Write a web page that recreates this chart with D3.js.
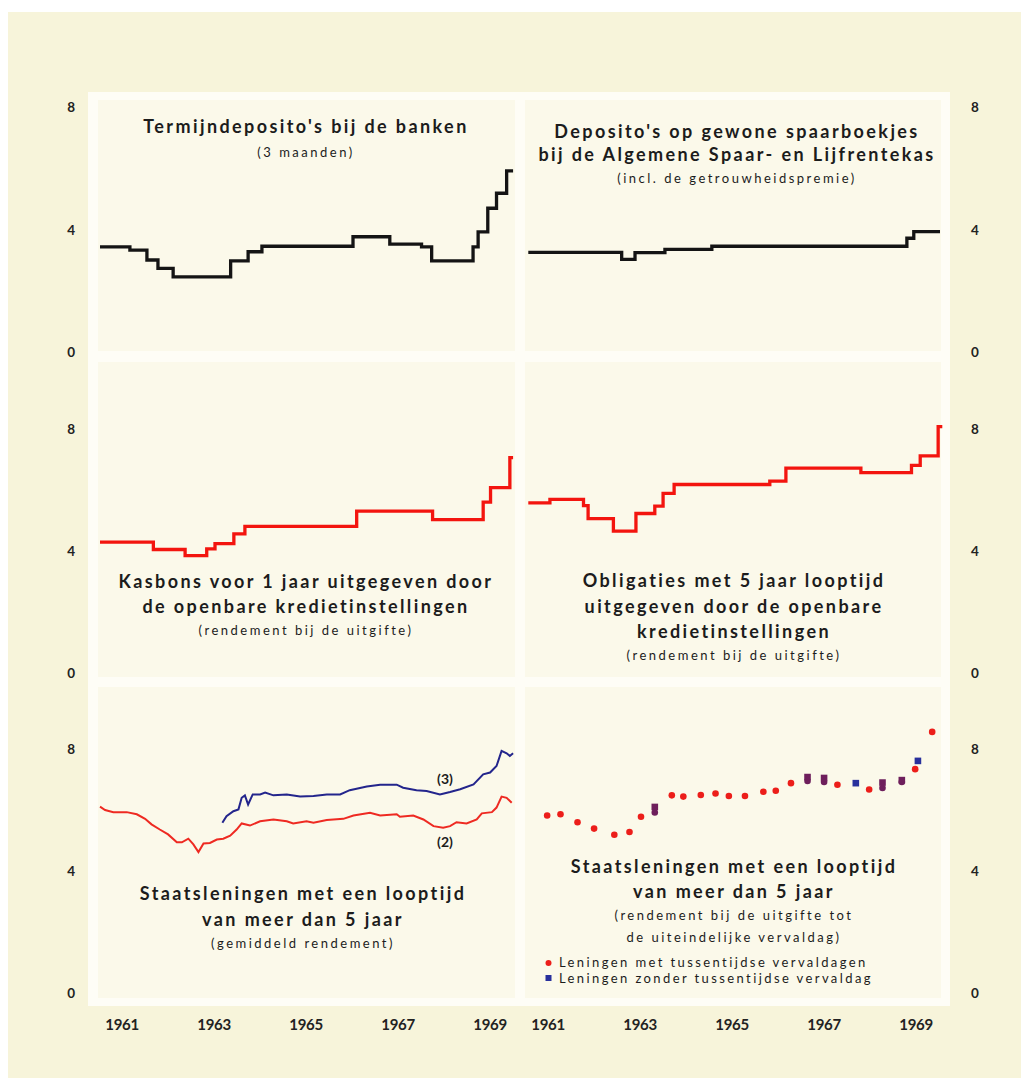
<!DOCTYPE html>
<html lang="nl">
<head>
<meta charset="UTF-8">
<script src="https://cdn.jsdelivr.net/npm/d3@7"></script>
<style>
  body { margin: 0; background: #ffffff; }
  svg text { font-family: Lato, "Open Sans", sans-serif; fill: #1c1c1c; }
  .title { font-size: 18px; font-weight: bold; letter-spacing: 2.4px; }
  .sub { font-size: 13px; letter-spacing: 2.5px; }
  .legend { font-size: 13px; letter-spacing: 2.4px; }
  .yax text { font-size: 13.5px; font-weight: bold; fill: #222; }
  .xax text { font-size: 15px; font-weight: bold; letter-spacing: -0.3px; fill: #222; }
  .note { font-size: 14px; font-weight: bold; }
</style>
</head>
<body>
<svg width="1021" height="1078"></svg>
<script>
// labels on the axes
var yearTicks = [1961, 1963, 1965, 1967, 1969];
var yTicks = [0, 4, 8];

// step series: year a level starts, level in %, last pair closes the line
var termijnT = [1961.0, 1961.65, 1962.02, 1962.26, 1962.59, 1963.84, 1964.22, 1964.52, 1966.5, 1967.30, 1967.99, 1968.21, 1969.11, 1969.22, 1969.43, 1969.62, 1969.84, 1969.98];
var termijnV = [3.45, 3.34, 3.02, 2.75, 2.47, 2.99, 3.29, 3.47, 3.78, 3.54, 3.45, 2.99, 3.45, 3.94, 4.71, 5.20, 5.93, 5.93];

var spaarT = [1961.05, 1963.08, 1963.37, 1964.02, 1965.04, 1969.28, 1969.43, 1970.0];
var spaarV = [3.27, 3.04, 3.26, 3.37, 3.47, 3.73, 3.95, 3.95];

var kasbonT = [1961.0, 1962.16, 1962.85, 1963.32, 1963.5, 1963.91, 1964.15, 1966.58, 1968.23, 1969.33, 1969.49, 1969.91, 1969.98];
var kasbonV = [4.29, 4.05, 3.85, 4.07, 4.24, 4.56, 4.81, 5.31, 5.03, 5.60, 6.08, 7.06, 7.06];

var obligT = [1961.05, 1961.52, 1962.25, 1962.35, 1962.9, 1963.39, 1963.8, 1963.98, 1964.22, 1966.3, 1966.65, 1968.28, 1969.38, 1969.57, 1969.96, 1970.05];
var obligV = [5.58, 5.69, 5.49, 5.06, 4.65, 5.23, 5.47, 5.89, 6.18, 6.29, 6.72, 6.57, 6.81, 7.12, 8.08, 8.08];

// average yield of state loans, (2) and (3)
var staat2T = [1961.0, 1961.11, 1961.29, 1961.58, 1961.8, 1961.98, 1962.12, 1962.30, 1962.48, 1962.67, 1962.78, 1962.92, 1963.03, 1963.14, 1963.25, 1963.39, 1963.54, 1963.68, 1963.83, 1963.97, 1964.08, 1964.26, 1964.48, 1964.77, 1965.06, 1965.2, 1965.49, 1965.64, 1965.93, 1966.29, 1966.51, 1966.87, 1967.09, 1967.45, 1967.52, 1967.81, 1968.03, 1968.25, 1968.46, 1968.61, 1968.75, 1968.97, 1969.19, 1969.3, 1969.52, 1969.62, 1969.73, 1969.84, 1969.95];
var staat2V = [6.11, 6.00, 5.93, 5.93, 5.86, 5.71, 5.53, 5.36, 5.20, 4.94, 4.94, 5.06, 4.87, 4.62, 4.90, 4.92, 5.03, 5.06, 5.16, 5.36, 5.56, 5.49, 5.63, 5.69, 5.63, 5.56, 5.63, 5.58, 5.67, 5.71, 5.82, 5.91, 5.82, 5.86, 5.78, 5.82, 5.69, 5.47, 5.42, 5.47, 5.60, 5.56, 5.69, 5.89, 5.93, 6.08, 6.44, 6.40, 6.24];

var staat3T = [1963.66, 1963.75, 1963.9, 1964.01, 1964.08, 1964.15, 1964.22, 1964.32, 1964.48, 1964.59, 1964.77, 1965.06, 1965.35, 1965.64, 1965.93, 1966.22, 1966.43, 1966.8, 1967.09, 1967.45, 1967.59, 1967.88, 1968.1, 1968.39, 1968.61, 1968.83, 1969.12, 1969.33, 1969.48, 1969.62, 1969.73, 1969.84, 1969.91, 1969.98];
var staat3V = [5.58, 5.80, 5.96, 6.02, 6.40, 6.48, 6.18, 6.51, 6.51, 6.57, 6.48, 6.51, 6.44, 6.46, 6.51, 6.51, 6.65, 6.77, 6.83, 6.83, 6.73, 6.65, 6.62, 6.51, 6.59, 6.68, 6.84, 7.17, 7.23, 7.44, 7.94, 7.86, 7.77, 7.86];

// yield at issue: loans with interim maturities (dots) and without (squares)
var metT = [1961.46, 1961.75, 1962.12, 1962.48, 1962.92, 1963.25, 1963.5, 1963.8, 1964.17, 1964.42, 1964.8, 1965.12, 1965.41, 1965.76, 1966.16, 1966.43, 1966.76, 1967.12, 1967.48, 1967.77, 1968.46, 1968.75, 1969.17, 1969.46, 1969.83];
var metV = [5.82, 5.86, 5.60, 5.39, 5.19, 5.28, 5.78, 5.92, 6.48, 6.44, 6.49, 6.54, 6.46, 6.46, 6.60, 6.63, 6.88, 6.95, 6.92, 6.83, 6.67, 6.72, 6.92, 7.34, 8.56];
var zonderT = [1963.8, 1967.12, 1967.48, 1968.17, 1968.75, 1969.17, 1969.52];
var zonderV = [6.10, 7.08, 7.05, 6.88, 6.90, 6.98, 7.61];

var svg = d3.select("svg");

// page, white frame and the six lighter panels
svg.append("rect").attr("x", 8).attr("y", 12).attr("width", 1013).attr("height", 1066).attr("fill", "#f7f4da");
svg.append("rect").attr("x", 88).attr("y", 92).attr("width", 862).attr("height", 914).attr("fill", "#fefdf6");

var cols = [{x0: 98, x1: 515, r0: 100, r1: 514}, {x0: 525, x1: 941, r0: 526, r1: 940}];
var rows = [{y0: 100, y1: 351, zero: 352.5, eight: 107.5},
            {y0: 362, y1: 677, zero: 673, eight: 429},
            {y0: 687, y1: 998, zero: 993, eight: 749}];

var xs = cols.map(function(c) { return d3.scaleLinear().domain([1961, 1970]).range([c.r0, c.r1]); });
var ys = rows.map(function(r) { return d3.scaleLinear().domain([0, 8]).range([r.zero, r.eight]); });

rows.forEach(function(r) {
    cols.forEach(function(c) {
        svg.append("rect").attr("x", c.x0).attr("y", r.y0)
            .attr("width", c.x1 - c.x0).attr("height", r.y1 - r.y0)
            .attr("fill", "#fbf9ea");
    });
});

// y labels left and right of each row
ys.forEach(function(y) {
    svg.append("g").attr("class", "yax").attr("transform", "translate(78,0)")
        .call(d3.axisLeft(y).tickValues(yTicks).tickSize(0).tickPadding(3))
        .call(function(g) { g.select(".domain").remove(); });
    svg.append("g").attr("class", "yax").attr("transform", "translate(968,0)")
        .call(d3.axisRight(y).tickValues(yTicks).tickSize(0).tickPadding(3))
        .call(function(g) { g.select(".domain").remove(); });
});

// year labels, set in the middle of each year
xs.forEach(function(x) {
    svg.append("g").attr("class", "xax").attr("transform", "translate(0,1019)")
        .call(d3.axisBottom(x).tickValues(yearTicks.map(function(d) { return d + 0.47; }))
            .tickFormat(function(d) { return Math.round(d - 0.47); }).tickSize(0).tickPadding(0))
        .call(function(g) { g.select(".domain").remove(); });
});

function drawLine(col, row, t, v, color, width, curve) {
    var x = xs[col], y = ys[row];
    var line = d3.line().curve(curve)
        .x(function(d) { return x(d[0]); })
        .y(function(d) { return y(d[1]); });
    svg.append("path")
        .datum(d3.zip(t, v))
        .attr("d", line)
        .attr("fill", "none")
        .attr("stroke", color)
        .attr("stroke-width", width)
        .attr("stroke-linejoin", "miter");
}

drawLine(0, 0, termijnT, termijnV, "#141414", 3.3, d3.curveStepAfter);
drawLine(1, 0, spaarT, spaarV, "#141414", 3.3, d3.curveStepAfter);
drawLine(0, 1, kasbonT, kasbonV, "#f3150f", 3.3, d3.curveStepAfter);
drawLine(1, 1, obligT, obligV, "#f3150f", 3.3, d3.curveStepAfter);
drawLine(0, 2, staat2T, staat2V, "#ee2a22", 2, d3.curveLinear);
drawLine(0, 2, staat3T, staat3V, "#23258c", 2, d3.curveLinear);

// scatter: where both kinds of loan sit together the print turns purple
var purple = "#6e1f5c";
function together(t, other) {
    return other.some(function(o) { return Math.abs(o - t) < 0.03; });
}
var xr = xs[1], yr = ys[2];
svg.append("g").selectAll("circle")
    .data(d3.zip(metT, metV))
    .enter().append("circle")
    .attr("cx", function(d) { return xr(d[0]); })
    .attr("cy", function(d) { return yr(d[1]); })
    .attr("r", 3.3)
    .attr("fill", function(d) { return together(d[0], zonderT) ? purple : "#ec1e1a"; });
svg.append("g").selectAll("rect")
    .data(d3.zip(zonderT, zonderV))
    .enter().append("rect")
    .attr("x", function(d) { return xr(d[0]) - 3.3; })
    .attr("y", function(d) { return yr(d[1]) - 3.3; })
    .attr("width", 6.6).attr("height", 6.6)
    .attr("fill", function(d) { return together(d[0], metT) ? purple : "#28309c"; });

// titles
function block(cx, lines) {
    lines.forEach(function(l) {
        svg.append("text").attr("class", l[2]).attr("x", cx).attr("y", l[1])
            .attr("text-anchor", "middle").text(l[0]);
    });
}
block(306, [["Termijndeposito's bij de banken", 133, "title"], ["(3 maanden)", 157, "sub"]]);
block(737, [["Deposito's op gewone spaarboekjes", 138, "title"],
            ["bij de Algemene Spaar- en Lijfrentekas", 161, "title"],
            ["(incl. de getrouwheidspremie)", 183, "sub"]]);
block(306, [["Kasbons voor 1 jaar uitgegeven door", 588, "title"],
            ["de openbare kredietinstellingen", 613, "title"],
            ["(rendement bij de uitgifte)", 635, "sub"]]);
block(734, [["Obligaties met 5 jaar looptijd", 587, "title"],
            ["uitgegeven door de openbare", 613, "title"],
            ["kredietinstellingen", 638, "title"],
            ["(rendement bij de uitgifte)", 660, "sub"]]);
block(303, [["Staatsleningen met een looptijd", 900, "title"],
            ["van meer dan 5 jaar", 926, "title"],
            ["(gemiddeld rendement)", 948, "sub"]]);
block(734, [["Staatsleningen met een looptijd", 873, "title"],
            ["van meer dan 5 jaar", 898, "title"],
            ["(rendement bij de uitgifte tot", 920, "sub"],
            ["de uiteindelijke vervaldag)", 942, "sub"]]);

svg.append("text").attr("class", "note").attr("x", 445).attr("y", 784).attr("text-anchor", "middle").text("(3)");
svg.append("text").attr("class", "note").attr("x", 445).attr("y", 847).attr("text-anchor", "middle").text("(2)");

// legend
svg.append("circle").attr("cx", 548.5).attr("cy", 963).attr("r", 3).attr("fill", "#ec1e1a");
svg.append("rect").attr("x", 545.5).attr("y", 975).attr("width", 6).attr("height", 6).attr("fill", "#28309c");
svg.append("text").attr("class", "legend").attr("x", 559).attr("y", 967).text("Leningen met tussentijdse vervaldagen");
svg.append("text").attr("class", "legend").attr("x", 559).attr("y", 983).text("Leningen zonder tussentijdse vervaldag");
</script>
</body>
</html>
